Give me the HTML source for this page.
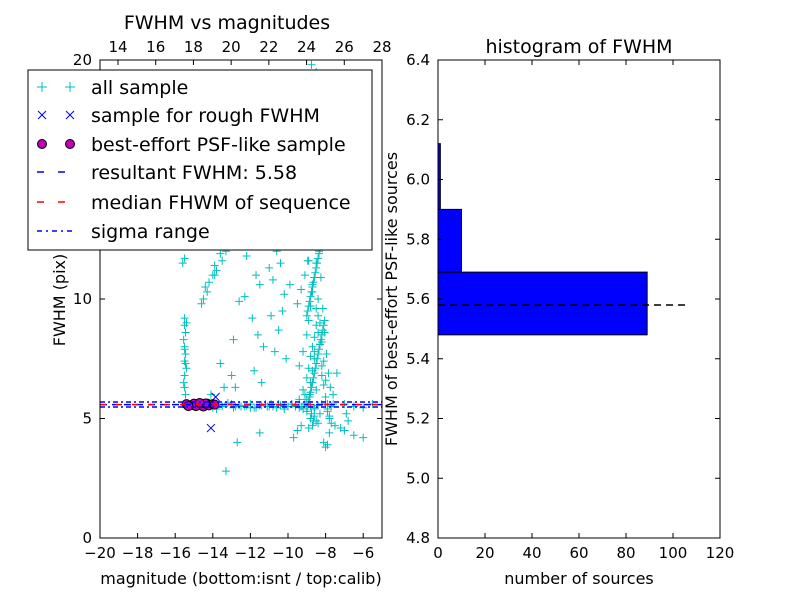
<!DOCTYPE html>
<html><head><meta charset="utf-8"><style>
body{margin:0;background:#fff;}
svg text{font-family:"DejaVu Sans","Liberation Sans",sans-serif;}
</style></head><body>
<svg id="c" width="800" height="600" xmlns="http://www.w3.org/2000/svg">
<rect width="800" height="600" fill="#fff"/>
</svg>
<script>
// ---- data: scatter (all sample) ----
const allMag = [-15.5,-15.5,-15.45,-15.55,-15.5,-15.45,-15.5,-15.4,-15.5,-15.55,-15.5,-15.45,-15.4,-15.5,-15.45,-15.5,
-14.5,-14.3,-14.2,-14.0,-13.9,-14.6,-14.4,-13.6,-13.8,-13.5,-13.3,-13.9,-15.6,-14.1,
-12.5,-12.2,-12.0,-11.7,-11.5,-11.2,-11.0,-10.8,-10.6,-10.4,-10.2,-10.0,-12.6,-12.3,-11.9,-11.6,-11.3,-10.9,-10.7,-10.5,-10.3,-11.8,-12.8,-13.0,-13.6,-12.9,-11.4,-10.1,-9.9,-10.6,
-9.6,-9.4,-9.2,-9.0,-8.9,-8.8,-8.7,-8.6,-8.5,-8.4,-8.3,-8.2,-8.1,-8.0,-7.9,-7.8,-7.7,-7.6,
-9.5,-9.3,-9.1,-8.95,-8.85,-8.75,-8.65,-8.55,-8.45,-8.35,-8.25,-8.15,-8.05,-7.95,-7.85,-7.75,
-9.4,-9.2,-9.0,-8.9,-8.8,-8.7,-8.6,-8.5,-8.4,-8.3,-8.2,-8.1,-8.0,-7.9,-7.8,
-9.0,-8.9,-8.8,-8.7,-8.6,-8.5,-8.4,-8.3,-8.2,-8.1,-9.1,-8.95,-8.75,-8.55,-8.35,
-8.8,-8.7,-8.6,-8.9,-8.65,-8.75,-9.0,-8.5,-8.85,-8.6,
-7.5,-7.2,-7.0,-6.8,-6.5,-6.0,-7.4,-7.6,-6.9,
-15.0,-14.5,-14.0,-13.5,-13.0,-12.5,-12.0,-11.5,-11.0,-10.5,-10.0,-13.8,-13.2,-12.8,-12.2,-11.8,-11.2,-10.8,-10.2,-9.8,-7.0,-6.5,-6.0,-5.5,
-13.3,-12.7,-11.5,-9.7,-9.5,-9.3,-8.1,-8.0,-7.8,-7.9,-13.4,
-9.0,-8.9,-8.8,-8.7,-8.6,-8.5,-8.4,-8.3,-8.2,-8.1,-9.0,-8.9,-8.8,-8.7,-8.6,-8.5,-8.4,-8.3,-8.2,-8.1,
-8.95,-8.85,-8.75,-8.65,-8.55,-8.45,-8.35,-8.25,-8.15,-8.05,-8.95,-8.85,-8.75,-8.65,-8.55,-8.45,-8.35,-8.25,-8.15,-8.05,
-9.2,-9.1,-9.3,-8.0,-7.9,-7.7,-8.6,-8.5,-8.7,-8.4,-8.8,-8.3,-9.1,-8.2,-8.6,-8.4,-8.5,-8.7,-8.9,-8.3,
-9.6,-9.4,-9.8,-10.2,-10.4,-10.6,-10.9,-11.1,-11.4,-11.7,-12.0,-12.3,-12.6,-12.9,-9.2,-9.0,-8.8,-8.6,-8.4,-8.2];
const allFwhm = [9.2,8.9,8.6,8.3,8.0,7.7,7.4,7.1,6.8,6.5,6.3,6.0,9.0,7.9,7.3,11.7,
10.0,10.3,10.7,11.0,11.4,9.8,10.5,11.9,11.2,11.6,12.0,11.0,11.5,6.0,
12.3,11.8,12.5,11.0,10.6,12.2,11.3,10.8,12.6,11.5,10.2,12.9,9.9,10.1,9.2,8.5,8.0,9.3,7.8,8.7,9.5,7.0,6.3,6.8,7.3,8.3,6.5,7.5,10.6,12.0,
5.5,5.8,6.2,6.7,7.1,7.6,8.0,8.4,8.9,9.3,8.1,7.2,6.4,5.9,5.3,5.0,4.8,6.0,
9.8,10.4,11.0,11.6,12.2,12.8,13.4,14.0,13.1,12.0,10.9,9.6,8.6,7.7,6.9,6.3,
7.2,7.8,8.5,9.1,9.7,10.3,10.9,11.5,10.0,9.0,8.2,7.4,6.6,5.6,5.1,
13.0,14.5,15.8,17.0,18.2,19.5,16.5,15.0,14.0,12.5,13.8,16.0,19.8,18.8,17.5,
6.5,7.0,7.5,4.6,4.9,5.2,5.8,6.2,6.0,5.4,
4.7,4.6,4.5,4.9,4.3,4.2,6.9,5.6,5.2,
5.5,5.6,5.45,5.5,5.6,5.5,5.45,5.55,5.5,5.6,5.5,5.4,5.65,5.5,5.55,5.45,5.6,5.5,5.4,5.6,5.6,5.5,5.45,5.6,
2.8,4.0,4.4,4.2,4.5,4.7,4.0,3.8,4.4,3.9,6.3,
5.3,5.7,6.1,6.5,6.9,7.3,7.7,8.1,8.5,8.9,9.3,9.7,10.1,10.5,10.9,11.3,11.7,12.1,12.5,12.9,
5.5,5.9,6.3,6.7,7.1,7.5,7.9,8.3,8.7,9.1,9.5,9.9,10.3,10.7,11.1,11.5,11.9,12.3,12.7,13.1,
5.4,5.6,5.5,5.6,5.4,5.5,5.1,4.9,4.7,4.8,5.0,5.2,6.0,6.8,7.8,8.6,9.6,10.6,11.6,12.6,
5.55,5.45,5.6,5.5,5.55,5.45,5.6,5.5,5.55,5.45,5.6,5.5,5.55,5.45,5.5,5.6,5.5,5.45,5.55,5.6];
const roughMag = [-14.1,-13.85,-15.3,-14.9,-14.6,-14.3,-14.0];
const roughFwhm = [4.6,5.9,5.6,5.6,5.55,5.6,5.6];
const psfMag = [-15.4,-15.2,-15.0,-14.8,-14.6,-14.5,-14.3,-14.2,-14.0,-13.9,-14.9,-14.4,-15.3,-14.7];
const psfFwhm = [5.6,5.55,5.62,5.55,5.6,5.5,5.62,5.55,5.6,5.58,5.52,5.63,5.52,5.65];
const resultFwhm = 5.58, medianFwhm = 5.58, sigmaLo = 5.48, sigmaHi = 5.69;
const xTicks = [-20,-18,-16,-14,-12,-10,-8,-6];
const xTopTicks = [14,16,18,20,22,24,26,28];
const yTicks = [0,5,10,20];
// ---- data: histogram ----
const binEdges = [5.48,5.69,5.90,6.12];
const binCounts = [89,10,1];
const hXTicks = [0,20,40,60,80,100,120];
const hYTicks = [4.8,5.0,5.2,5.4,5.6,5.8,6.0,6.2,6.4];

const svg=document.getElementById('c');const NS='http://www.w3.org/2000/svg';
function mk(t,a,p){const e=document.createElementNS(NS,t);for(const k in a)e.setAttribute(k,a[k]);(p||svg).appendChild(e);return e;}
function txt(x,y,s,anchor,size,p){const e=mk('text',{x:x,y:y,'text-anchor':anchor||'middle','font-size':size||16,fill:'#000'},p);e.textContent=s;return e;}
const L={x0:100,x1:382,y0:538,y1:60};
const sx=m=>L.x0+(m+20)/15*(L.x1-L.x0);
const sy=f=>L.y0-f/20*(L.y0-L.y1);
const tx=m=>118+(m-14)/14*(382-118);
const gL=mk('g',{});


const clip=mk('clipPath',{id:'cl'},gL);mk('rect',{x:L.x0,y:L.y1,width:L.x1-L.x0,height:L.y0-L.y1},clip);
const pts=mk('g',{'clip-path':'url(#cl)'},gL);
allMag.forEach((m,i)=>{const x=sx(m),y=sy(allFwhm[i]);
 const p=mk('path',{d:`M${x-4} ${y}H${x+4}M${x} ${y-4}V${y+4}`,stroke:'#00bfbf','stroke-width':1},pts);
 
 });
roughMag.forEach((m,i)=>{const x=sx(m),y=sy(roughFwhm[i]);
 const p=mk('path',{d:`M${x-4} ${y-4}L${x+4} ${y+4}M${x-4} ${y+4}L${x+4} ${y-4}`,stroke:'#0000ff','stroke-width':1},pts);
 
 });
psfMag.forEach((m,i)=>{const c=mk('circle',{cx:sx(m),cy:sy(psfFwhm[i]),r:4.5,fill:'#bf00bf',stroke:'#000','stroke-width':1},pts);
 
 });
[[resultFwhm,'#0000ff','7,5','resultant-fwhm-line'],[medianFwhm,'#ff0000','6,10','median-fwhm-line'],[sigmaLo,'#0000ff','5,3,2,3','sigma-low-line'],[sigmaHi,'#0000ff','5,3,2,3','sigma-high-line']].forEach(d=>{
 const l=mk('line',{x1:L.x0,x2:L.x1,y1:sy(d[0]),y2:sy(d[0]),stroke:d[1],'stroke-width':1.5,'stroke-dasharray':d[2]},pts);
 
 });
mk('rect',{x:L.x0,y:L.y1,width:L.x1-L.x0,height:L.y0-L.y1,fill:'none',stroke:'#000'},gL);
xTicks.forEach(t=>{const x=sx(t);mk('line',{x1:x,x2:x,y1:L.y0,y2:L.y0-5,stroke:'#000'},gL);
 const e=txt(x,L.y0+20,(t<0?'\u2212':'')+Math.abs(t),'middle',15,gL);
 
 });
xTopTicks.forEach(t=>{const x=tx(t);mk('line',{x1:x,x2:x,y1:L.y1,y2:L.y1+5,stroke:'#000'},gL);
 const e=txt(x,L.y1-8,t,'middle',15,gL);
 
 });
yTicks.forEach(t=>{const y=sy(t);mk('line',{x1:L.x0,x2:L.x0+5,y1:y,y2:y,stroke:'#000'},gL);mk('line',{x1:L.x1,x2:L.x1-5,y1:y,y2:y,stroke:'#000'},gL);
 const e=txt(L.x0-8,y+5,t,'end',15,gL);
 
 });
const R={x0:438,x1:720,y0:538,y1:60};
const hx=v=>R.x0+v/120*(R.x1-R.x0);
const hy=v=>R.y0-(v-4.8)/1.6*(R.y0-R.y1);
const gR=mk('g',{});


binCounts.forEach((c,i)=>{const b=mk('rect',{x:hx(0),y:hy(binEdges[i+1]),width:hx(c)-hx(0),height:hy(binEdges[i])-hy(binEdges[i+1]),fill:'#0000ff',stroke:'#000'},gR);
 
 });
const rl=mk('line',{x1:hx(0),x2:hx(107),y1:hy(resultFwhm),y2:hy(resultFwhm),stroke:'#000','stroke-width':1.5,'stroke-dasharray':'7,5'},gR);


mk('rect',{x:R.x0,y:R.y1,width:R.x1-R.x0,height:R.y0-R.y1,fill:'none',stroke:'#000'},gR);
hXTicks.forEach(t=>{const x=hx(t);mk('line',{x1:x,x2:x,y1:R.y0,y2:R.y0-5,stroke:'#000'},gR);mk('line',{x1:x,x2:x,y1:R.y1,y2:R.y1+5,stroke:'#000'},gR);
 const e=txt(x,R.y0+20,t,'middle',15,gR);
 
 });
hYTicks.forEach(t=>{const y=hy(t);mk('line',{x1:R.x0,x2:R.x0+5,y1:y,y2:y,stroke:'#000'},gR);mk('line',{x1:R.x1,x2:R.x1-5,y1:y,y2:y,stroke:'#000'},gR);
 const e=txt(R.x0-8,y+5,t.toFixed(1),'end',15,gR);
 
 });
</script>
<svg width="800" height="600" style="position:absolute;left:0;top:0" xmlns="http://www.w3.org/2000/svg">
<text x="227" y="29" text-anchor="middle" font-size="19">FWHM vs magnitudes</text>
<text x="579" y="53" text-anchor="middle" font-size="19">histogram of FWHM</text>
<text x="241" y="584" text-anchor="middle" font-size="16">magnitude (bottom:isnt / top:calib)</text>
<text x="579" y="584" text-anchor="middle" font-size="16">number of sources</text>
<text transform="translate(65,300) rotate(-90)" text-anchor="middle" font-size="16">FWHM (pix)</text>
<text transform="translate(397,299) rotate(-90)" text-anchor="middle" font-size="16">FWHM of best-effort PSF-like sources</text>
<g>
<rect x="28" y="70" width="344" height="180" fill="#fff" stroke="#000" stroke-width="1"/>
<g stroke="#00bfbf"><path d="M37 87H47M42 82V92M65 87H75M70 82V92"/></g>
<g stroke="#0000ff"><path d="M38 111L46 119M38 119L46 111M66 111L74 119M66 119L74 111"/></g>
<circle cx="42" cy="144" r="4.5" fill="#bf00bf" stroke="#000"/><circle cx="70" cy="144" r="4.5" fill="#bf00bf" stroke="#000"/>
<line x1="37" x2="75" y1="172" y2="172" stroke="#0000ff" stroke-width="1.5" stroke-dasharray="7,14"/>
<line x1="37" x2="75" y1="202" y2="202" stroke="#ff0000" stroke-width="1.5" stroke-dasharray="7,14"/>
<line x1="37" x2="75" y1="231" y2="231" stroke="#0000ff" stroke-width="1.5" stroke-dasharray="5,4,2,4"/>
<g font-size="19">
<text x="91" y="94">all sample</text>
<text x="91" y="122">sample for rough FWHM</text>
<text x="91" y="151">best-effort PSF-like sample</text>
<text x="91" y="179">resultant FWHM: 5.58</text>
<text x="91" y="209">median FHWM of sequence</text>
<text x="91" y="238">sigma range</text>
</g>
</g>
</svg>
</body></html>
